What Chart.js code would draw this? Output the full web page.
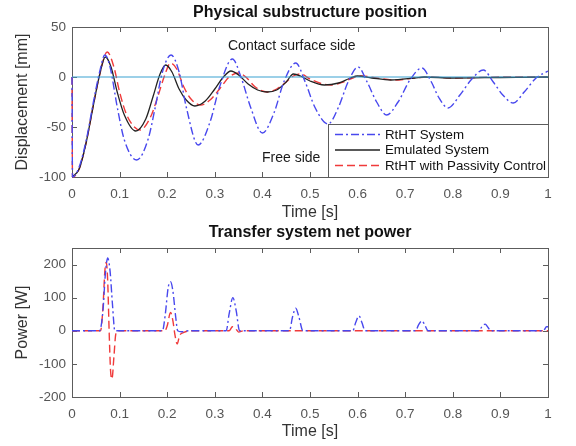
<!DOCTYPE html>
<html>
<head>
<meta charset="utf-8">
<script src="https://cdn.jsdelivr.net/npm/chart.js@4.4.1/dist/chart.umd.min.js"></script>
<style>
  html, body { margin: 0; padding: 0; background: #ffffff; }
  #wrap { position: relative; width: 576px; height: 446px; overflow: hidden; }
  canvas { position: absolute; left: 0; }
  #c1 { top: 0; }
  #c2 { top: 223px; }
</style>
</head>
<body>
<div id="wrap">
  <canvas id="c1" width="576" height="223"></canvas>
  <canvas id="c2" width="576" height="223"></canvas>
</div>
<script>
// ---------- Data ----------
const timeTicks = [0, 0.1, 0.2, 0.3, 0.4, 0.5, 0.6, 0.7, 0.8, 0.9, 1];
const seriesNames = ["RtHT System", "Emulated System", "RtHT with Passivity Control"];

// Top: displacement [mm]
const rthtPosT = [0, 0.001, 0.015, 0.03, 0.045, 0.058, 0.069, 0.08, 0.095, 0.11, 0.136, 0.16, 0.175, 0.19, 0.208, 0.225, 0.24, 0.265, 0.29, 0.31, 0.337, 0.355, 0.375, 0.40, 0.425, 0.445, 0.47, 0.49, 0.51, 0.538, 0.56, 0.58, 0.601, 0.62, 0.64, 0.661, 0.685, 0.71, 0.735, 0.755, 0.77, 0.79, 0.815, 0.84, 0.864, 0.885, 0.905, 0.927, 0.95, 0.975, 1.0];
const rthtPosY = [0, -100, -90, -63, -25, 5, 22, 10, -30, -63, -83, -62, -30, 5, 22, 5, -30, -68, -45, -10, 18, 0, -30, -56, -35, -5, 14, -5, -30, -47, -30, -5, 10, -5, -25, -38, -25, -3, 9, -5, -20, -31, -18, -2, 7, -5, -18, -26, -15, -1, 6];

const emuPosT = [0, 0.015, 0.03, 0.045, 0.057, 0.07, 0.082, 0.095, 0.11, 0.134, 0.155, 0.17, 0.185, 0.197, 0.21, 0.225, 0.24, 0.258, 0.28, 0.30, 0.318, 0.334, 0.35, 0.37, 0.39, 0.41, 0.43, 0.45, 0.465, 0.48, 0.50, 0.53, 0.56, 0.585, 0.60, 0.63, 0.67, 0.72, 0.74, 0.80, 0.90, 1.0];
const emuPosY = [-100, -92, -65, -28, 0, 20, 10, -15, -38, -54, -42, -20, 3, 12, 5, -12, -23, -29, -24, -12, 0, 6, 2, -7, -13, -15, -13, -5, 3, 1, -4, -8, -6, -1, 1, -1, -3, -1, 0, -1, -0.5, 0];

const pcPosT = [0, 0.001, 0.015, 0.03, 0.045, 0.058, 0.074, 0.088, 0.10, 0.115, 0.143, 0.165, 0.18, 0.195, 0.207, 0.22, 0.235, 0.25, 0.27, 0.29, 0.31, 0.33, 0.35, 0.365, 0.385, 0.41, 0.43, 0.45, 0.465, 0.48, 0.50, 0.52, 0.545, 0.57, 0.59, 0.61, 0.64, 0.68, 0.72, 0.75, 0.80, 0.90, 1.0];
const pcPosY = [0, -100, -92, -65, -28, 2, 25, 10, -15, -38, -53, -40, -20, 2, 14, 8, -10, -22, -28, -23, -12, 0, 4, 0, -10, -15, -12, -5, 1, 3, -2, -6, -8, -5, -1, 1, -1, -3, -1, 0, -1, 0, 0];

const contactLineT = [0, 1];
const contactLineY = [0, 0];

// Bottom: power [W]
const rthtPowT = [0, 0.058, 0.065, 0.07, 0.075, 0.08, 0.085, 0.09, 0.19, 0.196, 0.202, 0.207, 0.212, 0.218, 0.222, 0.23, 0.245, 0.324, 0.33, 0.338, 0.345, 0.352, 0.457, 0.463, 0.47, 0.477, 0.485, 0.59, 0.596, 0.603, 0.609, 0.616, 0.722, 0.728, 0.735, 0.742, 0.748, 0.855, 0.861, 0.868, 0.874, 0.88, 0.99, 0.997, 1.0];
const rthtPowY = [0, 0, 60, 170, 220, 180, 80, 0, 0, 50, 130, 148, 120, 40, 0, -3, 0, 0, 50, 100, 60, 0, 0, 40, 68, 40, 0, 0, 25, 45, 25, 0, 0, 18, 30, 15, 0, 0, 12, 20, 10, 0, 0, 12, 12];

const pcPowT = [0, 0.06, 0.065, 0.069, 0.072, 0.075, 0.078, 0.081, 0.084, 0.088, 0.092, 0.097, 0.195, 0.20, 0.207, 0.212, 0.216, 0.221, 0.226, 0.235, 0.25, 0.33, 0.337, 0.343, 0.35, 0.36, 1.0];
const pcPowY = [0, 0, 70, 180, 207, 150, 0, -120, -145, -80, -10, 0, 0, 15, 55, 30, -10, -40, -15, -5, 0, 0, 12, 8, -4, 0, 0];

// ---------- Helpers ----------
const toXY = (t, y) => t.map((v, i) => ({ x: v, y: y[i] }));
const BLUE = '#4848ee';
const RED = '#f03a3a';
const BLACK = '#222222';
const CYAN = '#3aa2d2';
const FONT = "'Liberation Sans', Arial, sans-serif";
const TICK_COLOR = '#555555';
const FRAME_COLOR = '#5c5c5c';

Chart.defaults.font.family = FONT;
Chart.defaults.animation = false;

// Frame with inward tick marks on all four sides (MATLAB style box)
const framePlugin = {
  id: 'frame',
  beforeDatasetsDraw(chart) {
    const { ctx, chartArea: a, scales } = chart;
    ctx.save();
    ctx.strokeStyle = FRAME_COLOR;
    ctx.lineWidth = 1;
    ctx.strokeRect(Math.round(a.left) + 0.5, Math.round(a.top) + 0.5, Math.round(a.right - a.left), Math.round(a.bottom - a.top));
    const L = 5;
    ctx.beginPath();
    scales.x.ticks.forEach(t => {
      const px = Math.round(scales.x.getPixelForValue(t.value)) + 0.5;
      ctx.moveTo(px, a.bottom); ctx.lineTo(px, a.bottom - L);
      ctx.moveTo(px, a.top); ctx.lineTo(px, a.top + L);
    });
    scales.y.ticks.forEach(t => {
      const py = Math.round(scales.y.getPixelForValue(t.value)) + 0.5;
      ctx.moveTo(a.left, py); ctx.lineTo(a.left + L, py);
      ctx.moveTo(a.right, py); ctx.lineTo(a.right - L, py);
    });
    ctx.stroke();
    ctx.restore();
  }
};

// Title and free text annotations
const textPlugin = {
  id: 'texts',
  afterDraw(chart, args, opts) {
    const { ctx, chartArea: a } = chart;
    ctx.save();
    (opts.items || []).forEach(it => {
      ctx.font = (it.bold ? 'bold ' : '') + it.size + 'px ' + FONT;
      ctx.fillStyle = it.color || '#111';
      ctx.textAlign = it.align || 'left';
      ctx.textBaseline = 'middle';
      const x = it.x === 'center' ? (a.left + a.right) / 2 : it.x;
      ctx.fillText(it.text, x, it.y);
    });
    ctx.restore();
  }
};

// MATLAB-like legend box inside the axes (bottom-right)
const boxLegendPlugin = {
  id: 'boxLegend',
  afterDatasetsDraw(chart, args, opts) {
    if (!opts.show) return;
    const { ctx, chartArea: a } = chart;
    const w = 220, h = 53;
    const x0 = a.right - w, y0 = a.bottom - h;
    ctx.save();
    ctx.fillStyle = '#ffffff';
    ctx.fillRect(x0, y0, w, h);
    ctx.strokeStyle = FRAME_COLOR;
    ctx.lineWidth = 1;
    ctx.strokeRect(Math.round(x0) + 0.5, Math.round(y0) + 0.5, w, h);
    const items = chart.data.datasets.filter(d => d.inLegend);
    items.forEach((d, i) => {
      const y = y0 + 10.5 + i * 15.5;
      ctx.beginPath();
      ctx.strokeStyle = d.borderColor;
      ctx.lineWidth = d.borderWidth;
      ctx.setLineDash(d.borderDash || []);
      ctx.moveTo(x0 + 7, y); ctx.lineTo(x0 + 52, y);
      ctx.stroke();
      ctx.setLineDash([]);
      ctx.fillStyle = '#111';
      ctx.font = '13.3px ' + FONT;
      ctx.textAlign = 'left';
      ctx.textBaseline = 'middle';
      ctx.fillText(d.label, x0 + 57, y + 0.5);
    });
    ctx.restore();
  }
};

function xScale(axisHeight, titlePadBottom) {
  return {
    type: 'linear', min: 0, max: 1,
    afterBuildTicks: s => { s.ticks = timeTicks.map(v => ({ value: v })); },
    afterFit: s => { s.height = axisHeight; },
    grid: { display: false, drawTicks: false, tickLength: 0 },
    border: { display: false },
    ticks: { padding: 9, color: TICK_COLOR, font: { size: 13.5 }, maxRotation: 0, autoSkip: false,
             callback: v => String(Math.round(v * 10) / 10) },
    title: { display: true, text: 'Time [s]', color: '#333', font: { size: 16 }, padding: { top: 0, bottom: titlePadBottom } }
  };
}
function yScale(min, max, step, label) {
  return {
    type: 'linear', min: min, max: max,
    afterFit: s => { s.width = 72; },
    grid: { display: false, drawTicks: false, tickLength: 0 },
    border: { display: false },
    ticks: { stepSize: step, includeBounds: false, padding: 6, color: TICK_COLOR, font: { size: 13.5 } },
    title: { display: true, text: label, color: '#333', font: { size: 16 }, padding: { top: 13, bottom: 0 } }
  };
}
function line(label, t, y, color, dash, inLegend, width) {
  return {
    label: label, data: toXY(t, y), borderColor: color, backgroundColor: color,
    borderWidth: width || 1.4, borderDash: dash, pointRadius: 0, fill: false, clip: 3,
    cubicInterpolationMode: 'monotone', inLegend: inLegend
  };
}

const DASHDOT = [8, 3, 2, 3];
const DASHED = [8, 4];

// ---------- Chart 1: position ----------
new Chart(document.getElementById('c1'), {
  type: 'line',
  data: {
    datasets: [
      line('Contact surface', contactLineT, contactLineY, CYAN, [], false, 1.2),
      line(seriesNames[0], rthtPosT, rthtPosY, BLUE, DASHDOT, true),
      line(seriesNames[1], emuPosT, emuPosY, BLACK, [], true, 1.3),
      line(seriesNames[2], pcPosT, pcPosY, RED, DASHED, true)
    ]
  },
  options: {
    responsive: false,
    layout: { padding: { top: 27, right: 28, left: 0, bottom: 0 } },
    scales: { x: xScale(46, 1), y: yScale(-100, 50, 50, 'Displacement [mm]') },
    plugins: {
      legend: { display: false }, tooltip: { enabled: false },
      boxLegend: { show: true },
      texts: { items: [
        { text: 'Physical substructure position', x: 'center', y: 13, size: 16, bold: true, align: 'center' },
        { text: 'Contact surface side', x: 228, y: 46, size: 14, color: '#1a1a1a' },
        { text: 'Free side', x: 262, y: 158, size: 14, color: '#1a1a1a' }
      ] }
    }
  },
  plugins: [framePlugin, boxLegendPlugin, textPlugin]
});

// ---------- Chart 2: power ----------
new Chart(document.getElementById('c2'), {
  type: 'line',
  data: {
    datasets: [
      line(seriesNames[0], rthtPowT, rthtPowY, BLUE, DASHDOT, false),
      line(seriesNames[2], pcPowT, pcPowY, RED, DASHED, false)
    ]
  },
  options: {
    responsive: false,
    layout: { padding: { top: 25, right: 28, left: 0, bottom: 0 } },
    scales: { x: xScale(49, 5), y: yScale(-200, 250, 100, 'Power [W]') },
    plugins: {
      legend: { display: false }, tooltip: { enabled: false },
      texts: { items: [
        { text: 'Transfer system net power', x: 'center', y: 10, size: 16, bold: true, align: 'center' }
      ] }
    }
  },
  plugins: [framePlugin, textPlugin]
});
</script>
</body>
</html>
